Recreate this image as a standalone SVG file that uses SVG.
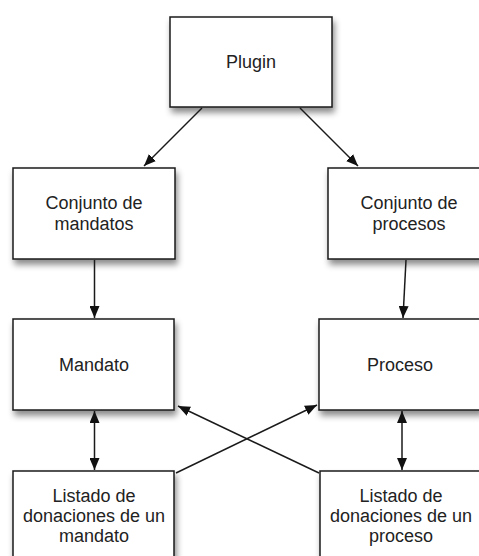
<svg xmlns="http://www.w3.org/2000/svg" width="479" height="556" viewBox="0 0 479 556">
<style>
.box{fill:#fff;stroke:#1a1a1a;stroke-width:1.5;filter:url(#sh)}
.t{font-family:"Liberation Sans",Arial,sans-serif;font-size:18px;fill:#222;text-anchor:middle}
.c{stroke:#1a1a1a;stroke-width:1.5;fill:none}
</style>
<defs>
<filter id="sh" x="-20%" y="-20%" width="150%" height="160%">
<feDropShadow dx="2" dy="5" stdDeviation="3" flood-color="#000" flood-opacity="0.45"/>
</filter>
<marker id="ah" viewBox="0 0 12 10" refX="12" refY="5" markerWidth="12" markerHeight="10" markerUnits="userSpaceOnUse" orient="auto-start-reverse">
<path d="M0,0 L12,5 L0,10 z" fill="#111"/>
</marker>
</defs>
<rect width="479" height="556" fill="#fff"/>
<g id="plugin"><rect class="box" x="170" y="17" width="162" height="90"/><text class="t" x="251" y="68">Plugin</text></g>
<g id="conjunto-mandatos"><rect class="box" x="13" y="168" width="162" height="91"/><text class="t" x="94" y="209">Conjunto de</text><text class="t" x="94" y="230">mandatos</text></g>
<g id="conjunto-procesos"><rect class="box" x="328" y="168" width="162" height="91"/><text class="t" x="409" y="209">Conjunto de</text><text class="t" x="409" y="230">procesos</text></g>
<g id="mandato"><rect class="box" x="13" y="319" width="161" height="91"/><text class="t" x="94" y="371">Mandato</text></g>
<g id="proceso"><rect class="box" x="319" y="319" width="162" height="91"/><text class="t" x="400" y="371">Proceso</text></g>
<g id="listado-mandato"><rect class="box" x="13" y="471" width="161" height="91"/><text class="t" x="94" y="502">Listado de</text><text class="t" x="94" y="522">donaciones de un</text><text class="t" x="94" y="542">mandato</text></g>
<g id="listado-proceso"><rect class="box" x="320" y="471" width="162" height="91"/><text class="t" x="401" y="502">Listado de</text><text class="t" x="401" y="522">donaciones de un</text><text class="t" x="401" y="542">proceso</text></g>
<g id="connectors">
<line class="c" x1="202" y1="108" x2="144" y2="166" marker-end="url(#ah)"/>
<line class="c" x1="300" y1="108" x2="358" y2="166" marker-end="url(#ah)"/>
<line class="c" x1="94.5" y1="260" x2="94.5" y2="318" marker-end="url(#ah)"/>
<line class="c" x1="406" y1="260" x2="403" y2="318" marker-end="url(#ah)"/>
<line class="c" x1="94.5" y1="411" x2="94.5" y2="470" marker-start="url(#ah)" marker-end="url(#ah)"/>
<line class="c" x1="402" y1="411" x2="402" y2="470" marker-start="url(#ah)" marker-end="url(#ah)"/>
<line class="c" x1="176" y1="473" x2="317" y2="405" marker-end="url(#ah)"/>
<line class="c" x1="319" y1="473" x2="178" y2="406" marker-end="url(#ah)"/>
</g>
</svg>
